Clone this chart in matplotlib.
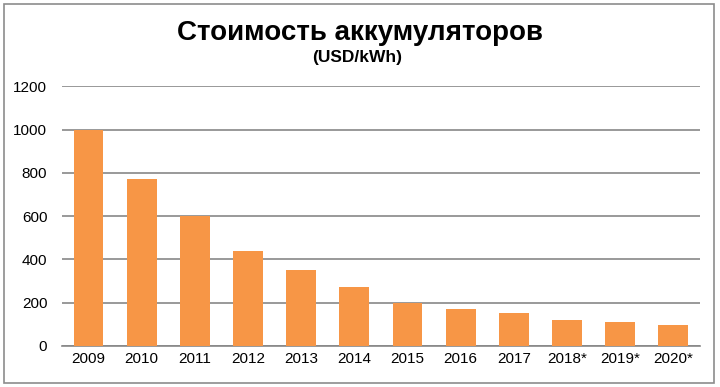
import matplotlib
matplotlib.use("Agg")
import matplotlib.pyplot as plt
from matplotlib.patches import Rectangle

# данные
years = ['2009', '2010', '2011', '2012', '2013', '2014',
         '2015', '2016', '2017', '2018*', '2019*', '2020*']
cost = [1000, 770, 600, 440, 350, 270, 200, 168, 150, 120, 108, 94]
y_ticks = [0, 200, 400, 600, 800, 1000, 1200]

plt.rcParams['font.family'] = ['Liberation Sans', 'DejaVu Sans']

fig = plt.figure(figsize=(7.2, 3.87), dpi=100)
ax = fig.add_axes([0.086, 0.1067, 0.886, 0.6698])

ax.bar(range(len(years)), cost, width=0.56, color='#F79646', zorder=3)

ax.set_ylim(0, 1200)
ax.set_xlim(-0.5, len(years) - 0.5)
ax.set_yticks(y_ticks)
ax.set_xticks(range(len(years)))
ax.set_xticklabels(years)
ax.tick_params(axis='both', length=0, labelsize=11, colors='black')
ax.tick_params(axis='y', pad=10.5)
ax.tick_params(axis='x', pad=4.5)
ax.yaxis.grid(True, color='#878787', lw=1.2, zorder=0)
for s in ['top', 'right', 'left']:
    ax.spines[s].set_visible(False)
ax.spines['bottom'].set_color('#878787')
ax.spines['bottom'].set_linewidth(1.2)

fig.text(0.5, 1 - 39.5 / 387, 'Стоимость аккумуляторов', ha='center', va='baseline',
         fontsize=20, fontweight='bold')
fig.text(0.496, 1 - 62 / 387, '(USD/kWh)', ha='center', va='baseline',
         fontsize=12.5, fontweight='bold')

# рамка вокруг рисунка
fig.patches.append(Rectangle((0.006, 0.011), 0.985, 0.978, transform=fig.transFigure,
                             fill=False, edgecolor='#8c8c8c', lw=1.2))

fig.savefig('out.png', dpi=100)
